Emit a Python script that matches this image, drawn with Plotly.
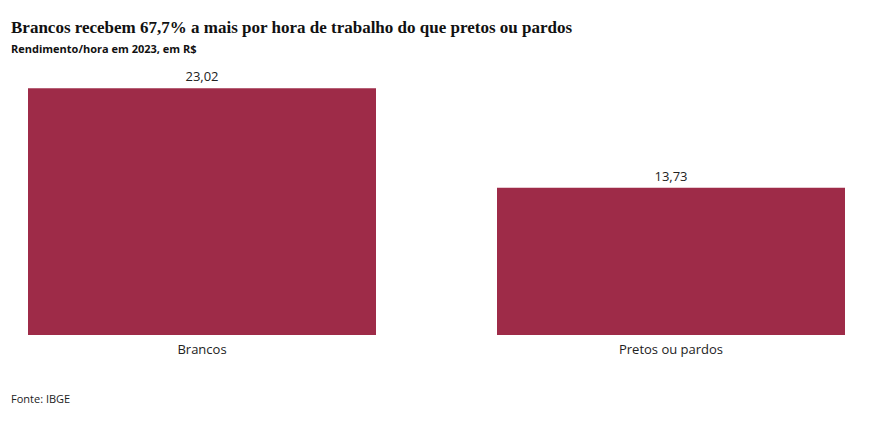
import plotly.graph_objects as go

categorias = ["Brancos", "Pretos ou pardos"]
rendimento_hora = [23.02, 13.73]

COR = "#9e2b48"

fig = go.Figure(
    go.Bar(
        x=categorias,
        y=rendimento_hora,
        marker=dict(color=COR, line=dict(width=0)),
        width=0.742,
        text=[f"{v:.2f}".replace(".", ",") for v in rendimento_hora],
        textposition="outside",
        textfont=dict(family="Open Sans", size=13, color="#222"),
        cliponaxis=False,
        hoverinfo="skip",
    )
)

fig.add_annotation(
    x=0, y=1, xref="paper", yref="paper", xshift=-19, yshift=40,
    xanchor="left", yanchor="middle", showarrow=False,
    text="<b>Brancos recebem 67,7% a mais por hora de trabalho do que pretos ou pardos</b>",
    font=dict(family="Liberation Serif", size=17, color="#111"),
)
fig.add_annotation(
    x=0, y=1, xref="paper", yref="paper", xshift=-19, yshift=19,
    xanchor="left", yanchor="middle", showarrow=False,
    text="<b>Rendimento/hora em 2023, em R$</b>",
    font=dict(family="Open Sans", size=11, color="#111"),
)
fig.add_annotation(
    x=0, y=0, xref="paper", yref="paper", xshift=-19, yshift=-63,
    xanchor="left", yanchor="middle", showarrow=False,
    text="Fonte: IBGE",
    font=dict(family="Open Sans", size=11, color="#222"),
)

# a página tem margem de 8px no body, por isso a figura é um pouco menor
fig.update_layout(
    width=868,
    height=415,
    margin=dict(l=20, r=31, t=59, b=88),
    paper_bgcolor="white",
    plot_bgcolor="white",
    showlegend=False,
    separators=",.",
    xaxis=dict(
        range=[-0.371, 1.371],
        showgrid=False, zeroline=False, showline=False,
        ticks="", ticklabelstandoff=5,
        tickfont=dict(family="Open Sans", size=13, color="#222"),
    ),
    yaxis=dict(
        range=[0, 25],
        visible=False,
    ),
)

fig.write_html("out.html")
